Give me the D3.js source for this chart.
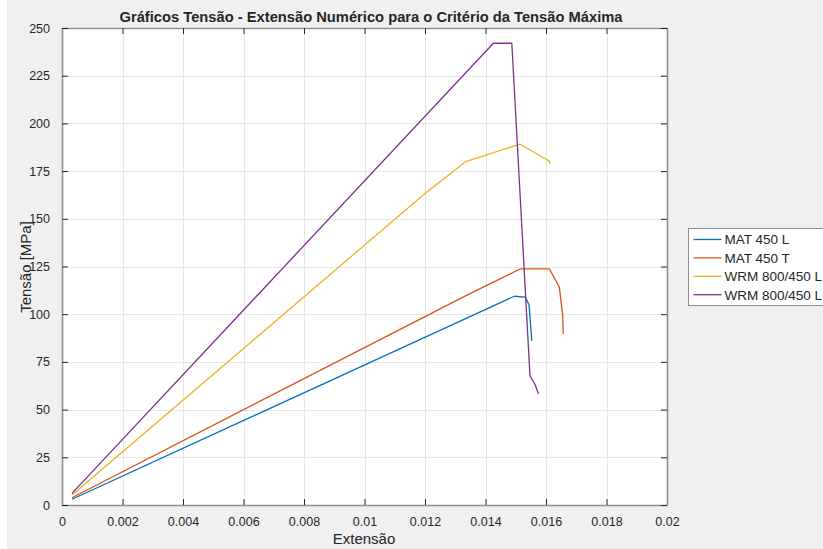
<!DOCTYPE html>
<html>
<head>
<meta charset="utf-8">
<script src="https://cdn.jsdelivr.net/npm/d3@7"></script>
<style>
  html, body { margin: 0; padding: 0; background: #f0f0f0; }
  svg { display: block; }
  text { font-family: "Liberation Sans", Arial, Helvetica, sans-serif; fill: #262626; }
</style>
</head>
<body>
<svg id="chart" width="823" height="549"></svg>
<script>
// Strain (Extensão) and stress (Tensão, MPa) for each series
const seriesNames = ["MAT 450 L", "MAT 450 T", "WRM 800/450 L", "WRM 800/450 L"];
const seriesColors = ["#0072BD", "#D95319", "#EDB120", "#7E2F8E"];

const matL_strain = [0.00033, 0.01495, 0.01531, 0.01544, 0.01553];
const matL_stress = [3.0, 109.4, 109.0, 105.0, 86.0];

const matT_strain = [0.00033, 0.01342, 0.01516, 0.01611, 0.01644, 0.01655, 0.01657];
const matT_stress = [3.8, 110.3, 123.8, 123.8, 114.2, 99.8, 89.6];

const wrmA_strain = [0.00033, 0.0120, 0.01335, 0.01514, 0.01611, 0.01613];
const wrmA_stress = [5.2, 163.3, 180.0, 189.1, 180.3, 178.9];

const wrmB_strain = [0.00033, 0.01426, 0.01487, 0.01547, 0.01564, 0.01575];
const wrmB_stress = [6.1, 242.0, 242.0, 67.8, 63.0, 58.3];

const xTicks = [0, 0.002, 0.004, 0.006, 0.008, 0.01, 0.012, 0.014, 0.016, 0.018, 0.02];
const xTickLabels = ["0", "0.002", "0.004", "0.006", "0.008", "0.01", "0.012", "0.014", "0.016", "0.018", "0.02"];
const yTicks = [0, 25, 50, 75, 100, 125, 150, 175, 200, 225, 250];

const titleText = "Gráficos Tensão - Extensão Numérico para o Critério da Tensão Máxima";
const xLabel = "Extensão";
const yLabel = "Tensão [MPa]";

const series = [
  { name: seriesNames[0], color: seriesColors[0], xs: matL_strain, ys: matL_stress },
  { name: seriesNames[1], color: seriesColors[1], xs: matT_strain, ys: matT_stress },
  { name: seriesNames[2], color: seriesColors[2], xs: wrmA_strain, ys: wrmA_stress },
  { name: seriesNames[3], color: seriesColors[3], xs: wrmB_strain, ys: wrmB_stress }
];

const svg = d3.select("#chart");
const W = 823, H = 549;
const plot = { left: 62, right: 667, top: 28, bottom: 505 };

// figure background with thin white margin on the left
svg.append("rect").attr("x", 0).attr("y", 0).attr("width", W).attr("height", H).attr("fill", "#f0f0f0");
svg.append("rect").attr("x", 0).attr("y", 0).attr("width", 7).attr("height", H).attr("fill", "#ffffff");

const x = d3.scaleLinear().domain([0, 0.02]).range([plot.left, plot.right]);
const y = d3.scaleLinear().domain([0, 250]).range([plot.bottom, plot.top]);

// axes area
svg.append("rect")
  .attr("x", plot.left).attr("y", plot.top)
  .attr("width", plot.right - plot.left).attr("height", plot.bottom - plot.top)
  .attr("fill", "#ffffff");

// grid
const grid = svg.append("g").attr("stroke", "#e6e6e6").attr("stroke-width", 1);
grid.selectAll("line.gx").data(xTicks.slice(1, -1)).join("line")
  .attr("x1", d => Math.round(x(d)) + 0.5).attr("x2", d => Math.round(x(d)) + 0.5)
  .attr("y1", plot.top).attr("y2", plot.bottom);
grid.selectAll("line.gy").data(yTicks.slice(1, -1)).join("line")
  .attr("y1", d => Math.round(y(d)) + 0.5).attr("y2", d => Math.round(y(d)) + 0.5)
  .attr("x1", plot.left).attr("x2", plot.right);

// data lines
const line = d3.line().x(d => x(d[0])).y(d => y(d[1]));
svg.append("g").selectAll("path").data(series).join("path")
  .attr("d", s => line(s.xs.map((v, i) => [v, s.ys[i]])))
  .attr("fill", "none")
  .attr("stroke", s => s.color)
  .attr("stroke-width", 1.3)
  .attr("stroke-linejoin", "round");

// axes with inward ticks on all four sides (box on)
const tickLen = 6;
const axBottom = d3.axisBottom(x).tickValues(xTicks).tickFormat((d, i) => xTickLabels[i]).tickSizeInner(-tickLen).tickSizeOuter(0).tickPadding(12);
const axTop = d3.axisTop(x).tickValues(xTicks).tickFormat("").tickSizeInner(-tickLen).tickSizeOuter(0);
const axLeft = d3.axisLeft(y).tickValues(yTicks).tickSizeInner(-tickLen).tickSizeOuter(0).tickPadding(12);
const axRight = d3.axisRight(y).tickValues(yTicks).tickFormat("").tickSizeInner(-tickLen).tickSizeOuter(0);

function styleAxis(g) {
  g.selectAll("path.domain").attr("stroke", "#8e8e8e").attr("stroke-width", 1.6);
  g.selectAll(".tick line").attr("stroke", "#262626").attr("stroke-width", 1);
  g.selectAll(".tick text").attr("fill", "#262626").attr("font-size", 12.5)
    .attr("font-family", "'Liberation Sans', Arial, sans-serif");
}
svg.append("g").attr("transform", `translate(0,${plot.bottom})`).call(axBottom).call(styleAxis);
svg.append("g").attr("transform", `translate(0,${plot.top})`).call(axTop).call(styleAxis);
svg.append("g").attr("transform", `translate(${plot.left},0)`).call(axLeft).call(styleAxis);
svg.append("g").attr("transform", `translate(${plot.right},0)`).call(axRight).call(styleAxis);

// title and axis labels
svg.append("text")
  .attr("x", 371).attr("y", 22)
  .attr("text-anchor", "middle")
  .attr("font-weight", "bold").attr("font-size", 14.8)
  .attr("textLength", 503).attr("lengthAdjust", "spacingAndGlyphs")
  .text(titleText);

svg.append("text")
  .attr("x", 364).attr("y", 544)
  .attr("text-anchor", "middle")
  .attr("font-size", 15)
  .text(xLabel);

svg.append("text")
  .attr("transform", "translate(31,267) rotate(-90)")
  .attr("text-anchor", "middle")
  .attr("font-size", 15)
  .text(yLabel);

// legend
const leg = svg.append("g").attr("transform", "translate(688.5,228.5)");
leg.append("rect").attr("width", 150).attr("height", 77)
  .attr("fill", "#ffffff").attr("stroke", "#8e8e8e").attr("stroke-width", 1);
const items = leg.selectAll("g.item").data(series).join("g")
  .attr("transform", (d, i) => `translate(0,${11 + i * 18.4})`);
items.append("line").attr("x1", 5).attr("x2", 33).attr("y1", 0).attr("y2", 0)
  .attr("stroke", d => d.color).attr("stroke-width", 1.3);
items.append("text").attr("x", 36).attr("y", 4.8).attr("font-size", 13.5).attr("fill", "#000")
  .text(d => d.name);
</script>
</body>
</html>
